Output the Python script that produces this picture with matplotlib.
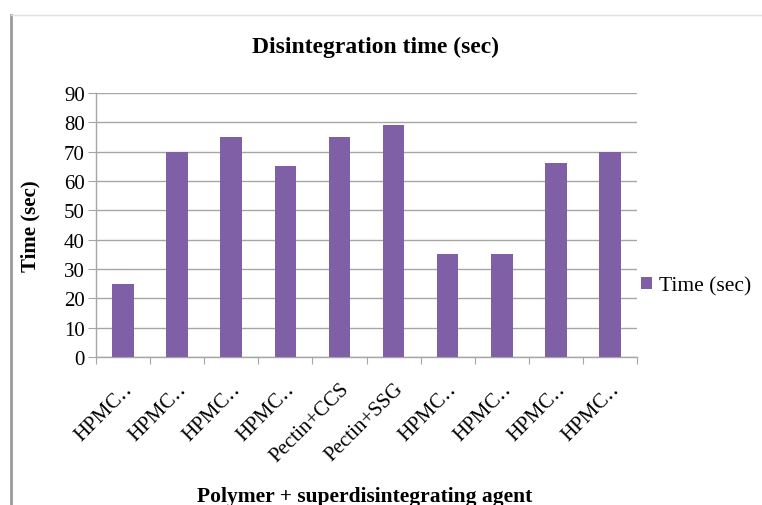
import matplotlib.pyplot as plt
from matplotlib.lines import Line2D

plt.rcParams.update({
    "font.family": ["Liberation Serif", "DejaVu Serif"],
    "font.size": 15,
})

PURPLE = "#7F5FA6"
GRID = "#A6A6A6"

categories = ["HPMC\u2025", "HPMC\u2025", "HPMC\u2025", "HPMC\u2025", "Pectin+CCS",
              "Pectin+SSG", "HPMC\u2025", "HPMC\u2025", "HPMC\u2025", "HPMC\u2025"]
times = [25, 70, 75, 65, 75, 79, 35, 35, 66, 70]
yticks = [0, 10, 20, 30, 40, 50, 60, 70, 80, 90]

fig = plt.figure(figsize=(7.62, 5.06), dpi=100)
ax = fig.add_axes([96 / 762, 1 - 358 / 506, (637 - 96) / 762, (358 - 94) / 506])

x = range(len(times))
ax.bar(x, times, width=0.4, color=PURPLE, zorder=3, label="Time (sec)")

ax.set_xlim(-0.5, len(times) - 0.5)
ax.set_ylim(0, 90)
ax.set_yticks(yticks)
ax.yaxis.grid(True, color=GRID, linewidth=1)
ax.set_axisbelow(True)

# category ticks sit on the boundaries between bars
ax.set_xticks([i - 0.5 for i in range(len(times) + 1)])
ax.set_xticklabels([])
ax.set_xticks(list(x), minor=True)
ax.set_xticklabels(categories, minor=True, rotation=45, ha="right",
                   rotation_mode="anchor", fontsize=15)
ax.tick_params(axis="x", which="minor", length=0, pad=16)
ax.tick_params(axis="x", which="major", length=5, color=GRID, direction="out")
ax.tick_params(axis="y", length=6, color=GRID, labelsize=15, pad=2)

for side in ["top", "right"]:
    ax.spines[side].set_visible(False)
for side in ["left", "bottom"]:
    ax.spines[side].set_color(GRID)
    ax.spines[side].set_linewidth(1)

fig.text(30 / 762, 1 - 226 / 506, "Time (sec)", rotation=90, ha="center",
         va="center", fontsize=15, fontweight="bold")
fig.text(376 / 762, 1 - 47 / 506, "Disintegration time (sec)", ha="center",
         va="center", fontsize=17, fontweight="bold")
fig.text(365 / 762, 1 - 497 / 506, "Polymer + superdisintegrating agent", ha="center",
         va="center", fontsize=15.5, fontweight="bold")

ax.legend(loc="center left", bbox_to_anchor=(1.0, 0.27), frameon=False,
          handlelength=0.5, handleheight=0.5, handletextpad=0.3, fontsize=15.5,
          borderaxespad=0.0, borderpad=0.2)

# chart frame on the left and top edges
fig.add_artist(Line2D([11 / 762, 11 / 762], [0, 1 - 16 / 506], color="#9A9A9A",
                      linewidth=2, transform=fig.transFigure))
fig.add_artist(Line2D([11 / 762, 1], [1 - 16 / 506, 1 - 16 / 506], color="#E0E0E0",
                      linewidth=1, transform=fig.transFigure))

fig.savefig("out.png", dpi=100)
